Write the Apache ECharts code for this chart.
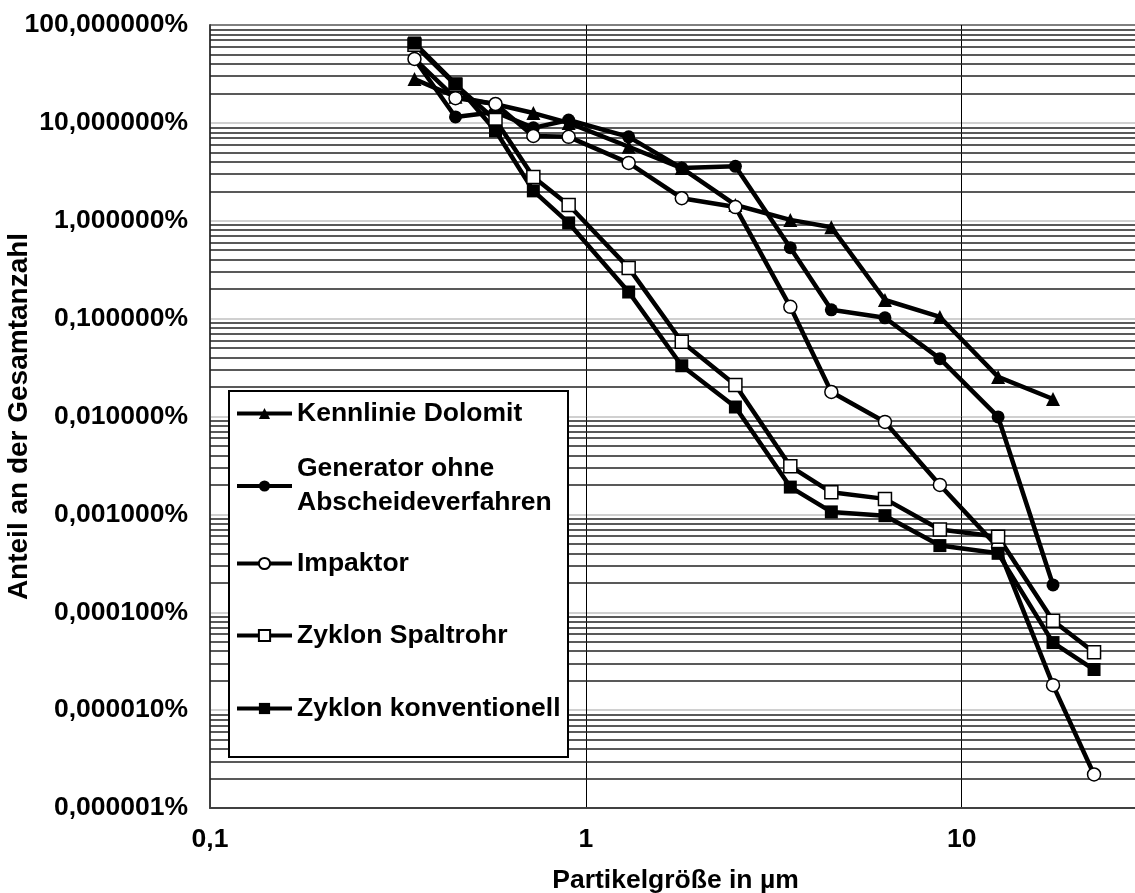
<!DOCTYPE html>
<html>
<head>
<meta charset="utf-8">
<title>Partikelgrößenverteilung</title>
<script src="https://cdn.jsdelivr.net/npm/echarts@6/dist/echarts.min.js"></script>
<style>
  html, body { margin: 0; padding: 0; background: #fff; }
  #main { width: 1135px; height: 893px; }
</style>
</head>
<body>
<div id="main"></div>
<script>
// Klassenmitten der Partikelgröße in µm
var groessen = [0.35, 0.45, 0.575, 0.725, 0.9, 1.3, 1.8, 2.5, 3.5, 4.5, 6.25, 8.75, 12.5, 17.5, 22.5];

// Anteil an der Gesamtanzahl in %
var kennlinieDolomit = [28, 18.5, 15.5, 12.6, 10, 5.7, 3.45, 1.45, 1.02, 0.86, 0.155, 0.104, 0.0254, 0.0151];
var generator = [45, 11.5, 12.9, 8.9, 10.7, 7.2, 3.45, 3.6, 0.53, 0.123, 0.102, 0.039, 0.0099, 0.00019];
var impaktor = [45, 17.9, 15.6, 7.35, 7.2, 3.9, 1.7, 1.38, 0.132, 0.0178, 0.0088, 0.002, 0.00046, 0.000018, 0.0000022];
var zyklonSpaltrohr = [63, 24.5, 10.7, 2.8, 1.45, 0.33, 0.058, 0.021, 0.0031, 0.00168, 0.00144, 0.0007, 0.00059, 0.000082, 0.000039];
var zyklonKonventionell = [65.5, 25, 8.3, 2.02, 0.95, 0.187, 0.033, 0.0125, 0.0019, 0.00106, 0.00097, 0.00048, 0.0004, 0.000049, 0.000026];

var namen = ['Kennlinie Dolomit', 'Generator ohne\nAbscheideverfahren', 'Impaktor', 'Zyklon Spaltrohr', 'Zyklon konventionell'];

var schrift = { fontFamily: 'Liberation Sans, Arial, sans-serif', fontWeight: 'bold', fontSize: 26.5, color: '#000' };

// Zwischenlinien 2..9 je Dekade
var zwischenlinien = [];
for (var e = -6; e < 2; e++) {
  for (var m = 2; m <= 9; m++) {
    zwischenlinien.push({ yAxis: m * Math.pow(10, e) });
  }
}

function reihe(name, werte, symbol, gefuellt, groesse) {
  return {
    name: name,
    type: 'line',
    data: werte.map(function (v, i) { return [groessen[i], v]; }),
    symbol: symbol,
    symbolSize: groesse,
    lineStyle: { color: '#000', width: 4.5 },
    itemStyle: {
      color: gefuellt ? '#000' : '#fff',
      borderColor: '#000',
      borderWidth: gefuellt ? 0 : 1.5
    },
    emphasis: { disabled: true },
    z: 3
  };
}

function legende(name, mitte, extra) {
  var ts = Object.assign({}, schrift);
  if (extra) { Object.assign(ts, extra); }
  return {
    data: [name],
    orient: 'vertical',
    left: 235,
    top: mitte,
    padding: 0,
    itemWidth: 55,
    itemHeight: 14,
    itemGap: 0,
    lineStyle: { width: 4, color: '#000' },
    textStyle: ts,
    selectedMode: false
  };
}

var kennlinieReihe = reihe(namen[0], kennlinieDolomit, 'triangle', true, 14);
// markLine rundet sonst auf 2 Nachkommastellen
kennlinieReihe.markLine = {
  silent: true,
  z: 1,
  precision: 12,
  symbol: 'none',
  label: { show: false },
  lineStyle: { color: '#222', width: 1.5, type: 'solid' },
  emphasis: { disabled: true },
  data: zwischenlinien
};

var myChart = echarts.init(document.getElementById('main'));
myChart.setOption({
  backgroundColor: '#fff',
  animation: false,
  grid: {
    left: 210,
    right: -6,
    top: 25,
    bottom: 85,
    show: true,
    borderColor: '#000',
    borderWidth: 1,
    containLabel: false,
    outerBoundsMode: 'none'
  },
  graphic: [{
    type: 'rect',
    z: 3.5,
    shape: { x: 229, y: 391, width: 339, height: 366 },
    style: { fill: '#fff', stroke: '#000', lineWidth: 2 }
  }],
  legend: [
    legende(namen[0], 400),
    legende(namen[1], 486 - 51, { lineHeight: 34, padding: [34, 0, 0, 0] }),
    legende(namen[2], 550),
    legende(namen[3], 622),
    legende(namen[4], 695)
  ],
  xAxis: {
    type: 'log',
    min: 0.1,
    max: 30,
    logBase: 10,
    splitNumber: 3,
    name: 'Partikelgröße in µm',
    nameLocation: 'middle',
    nameGap: 59,
    nameMoveOverlap: false,
    nameTextStyle: schrift,
    axisLine: { show: true, onZero: false, lineStyle: { color: '#404040', width: 2 } },
    axisTick: { show: false },
    axisLabel: Object.assign({
      margin: 18,
      showMaxLabel: false,
      formatter: function (v) { return String(Number(v.toPrecision(6))).replace('.', ','); }
    }, schrift),
    splitLine: { show: true, showMinLine: false, lineStyle: { color: '#000', width: 1 } },
    minorTick: { show: false },
    minorSplitLine: { show: false }
  },
  yAxis: {
    type: 'log',
    min: 0.000001,
    max: 100,
    logBase: 10,
    splitNumber: 8,
    name: 'Anteil an der Gesamtanzahl',
    nameLocation: 'middle',
    nameRotate: 90,
    nameGap: 177,
    nameMoveOverlap: false,
    nameTextStyle: Object.assign({}, schrift, { fontSize: 28 }),
    axisLine: { show: true, onZero: false, lineStyle: { color: '#404040', width: 2 } },
    axisTick: { show: false },
    axisLabel: Object.assign({
      margin: 22,
      formatter: function (v) { return v.toFixed(6).replace('.', ',') + '%'; }
    }, schrift),
    splitLine: { show: true, showMinLine: false, showMaxLine: false, lineStyle: { color: '#c0c0c0', width: 1.5 } },
    minorTick: { show: false },
    minorSplitLine: { show: false }
  },
  series: [
    kennlinieReihe,
    reihe(namen[1], generator, 'circle', true, 13),
    reihe(namen[2], impaktor, 'circle', false, 13),
    reihe(namen[3], zyklonSpaltrohr, 'rect', false, 13),
    reihe(namen[4], zyklonKonventionell, 'rect', true, 13)
  ]
});
</script>
</body>
</html>
